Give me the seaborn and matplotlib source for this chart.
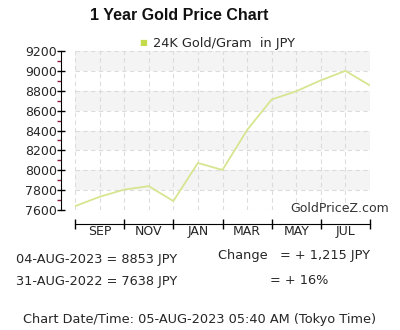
import numpy as np
import pandas as pd
import matplotlib
matplotlib.use("Agg")
import matplotlib.pyplot as plt
import seaborn as sns
from matplotlib.ticker import MultipleLocator, FixedLocator

# 数据
point_idx = list(range(13))
prices = [7638, 7733, 7805, 7840, 7690, 8073, 8003, 8405, 8712, 8795, 8905, 9000, 8853]
month_labels = ["SEP", "NOV", "JAN", "MAR", "MAY", "JUL"]
month_pos = [1, 3, 5, 7, 9, 11]
series_name = "24K Gold/Gram  in JPY"

df = pd.DataFrame({"idx": point_idx, "price": prices})

sns.set_style("white")
plt.rcParams['font.family'] = ['DejaVu Sans']

fig = plt.figure(figsize=(4, 3.3), dpi=100, facecolor='white')
ax = fig.add_axes([75 / 400, 1 - 210 / 330, 295 / 400, 159 / 330])

# 交替灰色背景带
for lo in [7800, 8200, 8600, 9000]:
    ax.axhspan(lo, lo + 200, color='#f4f4f4', zorder=0, lw=0)

sns.lineplot(data=df, x="idx", y="price", ax=ax, color='#d6e690', lw=1.3,
             label=series_name, legend=False, zorder=3)

ax.set_xlim(0, 12)
ax.set_ylim(7600, 9200)
ax.set_xlabel("")
ax.set_ylabel("")

# x 轴
ax.xaxis.set_major_locator(FixedLocator(range(0, 13, 2)))
ax.xaxis.set_minor_locator(FixedLocator(month_pos))
ax.set_xticklabels([""] * 7)
ax.set_xticks(month_pos, month_labels, minor=True)
ax.tick_params(axis='x', which='both', bottom=True)
ax.tick_params(axis='x', which='major', direction='inout', length=7, width=1, color='black')
ax.tick_params(axis='x', which='minor', length=0, pad=1, labelsize=9)

# y 轴
ax.yaxis.set_major_locator(MultipleLocator(200))
ax.yaxis.set_minor_locator(MultipleLocator(100))
ax.tick_params(axis='y', which='both', left=True)
ax.tick_params(axis='y', which='major', direction='inout', length=6, width=1,
               color='black', labelsize=9, pad=0)
ax.tick_params(axis='y', which='minor', direction='out', length=3, width=1, color='#8b2040')

ax.grid(axis='x', which='both', color='#dcdcdc', ls=(0, (4, 3)), lw=0.8, zorder=1)
ax.grid(axis='y', which='major', color='#dcdcdc', ls=(0, (4, 3)), lw=0.8, zorder=1)

for s in ['top', 'right']:
    ax.spines[s].set_visible(False)
ax.spines['left'].set_position(('outward', 10))
ax.spines['bottom'].set_position(('outward', 10))
ax.spines['left'].set_color('black')
ax.spines['bottom'].set_color('black')

# 标题与图例
fig.text(179 / 400, 1 - 16 / 330, "1 Year Gold Price Chart", ha='center', va='center',
         fontsize=11.5, fontweight='bold', color='#111111', family='Liberation Sans')
fig.text(143 / 400, 1 - 43 / 330, "\u25a0", ha='center', va='center', fontsize=6,
         color='#c4da4a')
fig.text(153 / 400, 1 - 43 / 330, series_name, ha='left', va='center', fontsize=9.3)

# 水印
fig.text(389 / 400, 1 - 209 / 330, "GoldPriceZ.com", ha='right', va='center',
         fontsize=9, color='#333333')

# 底部文字
fs = 9.3
fig.text(16 / 400, 1 - 259 / 330, "04-AUG-2023 = 8853 JPY", ha='left', va='center', fontsize=fs)
fig.text(16 / 400, 1 - 281 / 330, "31-AUG-2022 = 7638 JPY", ha='left', va='center', fontsize=fs)
fig.text(218 / 400, 1 - 256 / 330, "Change   = + 1,215 JPY", ha='left', va='center', fontsize=fs)
fig.text(270 / 400, 1 - 281 / 330, "= + 16%", ha='left', va='center', fontsize=fs)
fig.text(200 / 400, 1 - 319 / 330, "Chart Date/Time: 05-AUG-2023 05:40 AM (Tokyo Time)",
         ha='center', va='center', fontsize=fs)

fig.savefig("out.png", dpi=100, facecolor='white')
